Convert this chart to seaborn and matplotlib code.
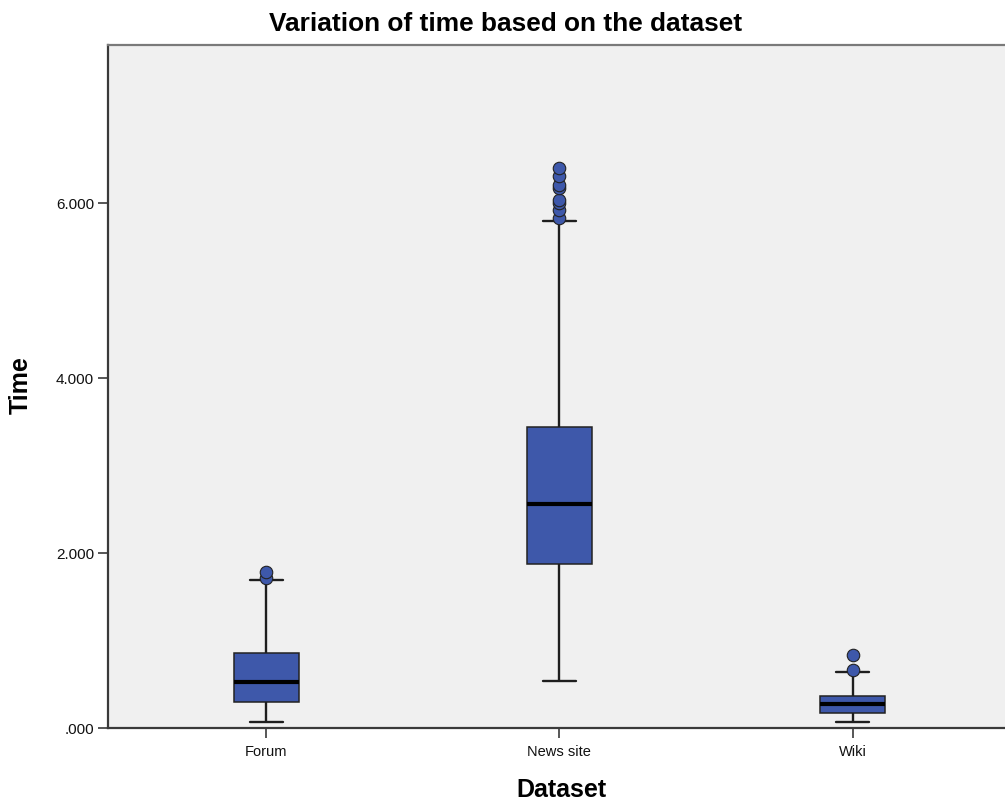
import numpy as np
import pandas as pd
import matplotlib
matplotlib.use("Agg")
import matplotlib.pyplot as plt
from matplotlib.ticker import FuncFormatter
import seaborn as sns

# ---- data ----
categories = ["Forum", "News site", "Wiki"]
whisker_low = [0.07, 0.54, 0.07]
q1 = [0.30, 1.87, 0.175]
median = [0.525, 2.56, 0.27]
q3 = [0.86, 3.44, 0.365]
whisker_high = [1.69, 5.79, 0.635]
outliers = [
    [1.72, 1.78],
    [5.83, 5.92, 6.00, 6.03, 6.17, 6.21, 6.31, 6.40],
    [0.66, 0.83],
]
y_ticks = [0, 2, 4, 6]

title = "Variation of time based on the dataset"
x_label = "Dataset"
y_label = "Time"

# Build long-form samples whose quartiles equal the read summary values
rows = []
for cat, lo, a, m, b, hi, outs in zip(categories, whisker_low, q1, median, q3,
                                       whisker_high, outliers):
    upper = [hi] + list(outs)
    k = len(upper)
    vals = [lo] + [a] * k + [m] * k + [b] * k + upper
    rows += [(cat, v) for v in vals]
df = pd.DataFrame(rows, columns=[x_label, y_label])

sns.set_style("white")
plt.rcParams["font.family"] = ["Liberation Sans", "DejaVu Sans"]
plt.rcParams["text.color"] = "black"
plt.rcParams["axes.labelcolor"] = "black"

box_blue = "#3E58AA"
dark = "#1E1E1E"

fig = plt.figure(figsize=(10.05, 8.05), dpi=100)
fig.patch.set_facecolor("white")
L, R, B, T = 108 / 1005, 1005 / 1005, 77 / 805, (805 - 45) / 805
ax = fig.add_axes([L, B, R - L + 0.002, T - B])
ax.set_facecolor("#F0F0F0")

sns.boxplot(
    data=df, x=x_label, y=y_label, order=categories, ax=ax,
    color=box_blue, saturation=1, width=0.222, whis=1.5,
    linewidth=1.0, linecolor=dark,
    boxprops=dict(edgecolor="#222222", linewidth=1.1),
    whiskerprops=dict(color=dark, linewidth=1.7),
    capprops=dict(color=dark, linewidth=1.7),
    medianprops=dict(color="black", linewidth=3.0),
    flierprops=dict(marker="o", markerfacecolor=box_blue,
                    markeredgecolor="#222222", markeredgewidth=0.8,
                    markersize=9),
)

ax.set_xlim(-0.540, 2.527)
ax.set_ylim(0, 7.806)
ax.set_yticks(y_ticks)
ax.yaxis.set_major_formatter(FuncFormatter(
    lambda v, p: f"{v:.3f}".lstrip("0") if v < 1 else f"{v:.3f}"))

for s in ["left", "bottom"]:
    ax.spines[s].set_visible(True)
    ax.spines[s].set_color("#3a3a3a")
    ax.spines[s].set_linewidth(1.6)
ax.spines["top"].set_visible(True)
ax.spines["top"].set_color("#7a7a7a")
ax.spines["top"].set_linewidth(1.6)
ax.spines["right"].set_visible(False)

ax.tick_params(axis="both", which="major", direction="out", length=7,
               width=1.2, color="#3a3a3a", labelcolor="#111111",
               left=True, bottom=True)
ax.tick_params(axis="x", labelsize=10.5, pad=5)
ax.tick_params(axis="y", labelsize=11, pad=3)

ax.set_xlabel(x_label, fontsize=18, fontweight="bold", color="black")
ax.set_ylabel(y_label, fontsize=18, fontweight="bold", color="black")
ax.xaxis.set_label_coords((560 - 108) / 897, (728 - 778) / 683)
ax.yaxis.set_label_coords((33 - 108) / 897, (728 - 385) / 683)

fig.text(506 / 1005, 1 - 24 / 805, title, ha="center", va="center",
         fontsize=18.9, fontweight="bold", color="black")

fig.savefig("out.png", dpi=100)
